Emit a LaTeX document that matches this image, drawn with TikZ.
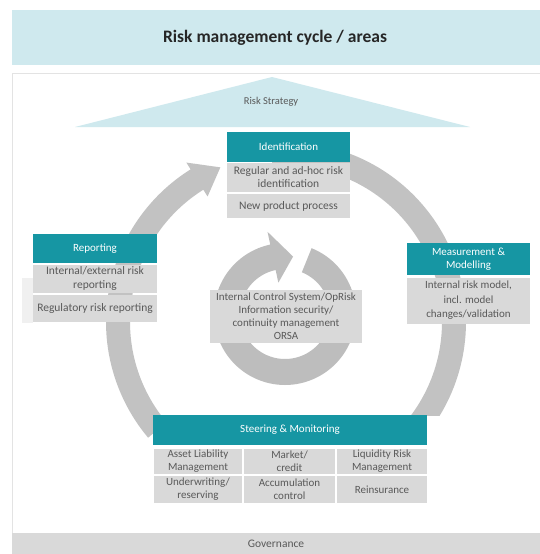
\documentclass[tikz,border=0pt]{standalone}
\usepackage{fontspec}
\setmainfont{Carlito}
\definecolor{tealhdr}{HTML}{1696A3}
\definecolor{lightcyan}{HTML}{CFE9EE}
\definecolor{cellgray}{HTML}{D9D9D9}
\definecolor{ringgray}{HTML}{C2C2C2}
\definecolor{innergray}{HTML}{BDBDBD}
\definecolor{textgray}{HTML}{595959}
\definecolor{panelline}{HTML}{E3E3E3}
\definecolor{faintgray}{HTML}{F0F0F0}
\begin{document}
\begin{tikzpicture}[x=1pt,y=-1pt,
  hdr/.style={fill=tealhdr, text=white, font=\fontsize{11}{13}\selectfont, align=center, inner sep=0pt},
  cell/.style={fill=cellgray, text=textgray, font=\fontsize{11}{13}\selectfont, align=center, inner sep=0pt},
  bigcell/.style={cell, font=\fontsize{11.5}{13.5}\selectfont},
  band/.style={fill=lightcyan},
  ring/.style={fill=ringgray},
  iring/.style={fill=innergray}]
\useasboundingbox (0,0) rectangle (540,554);
\fill[white] (0,0) rectangle (540,554);

% title band
\fill[band] (12,10) rectangle (540,65);
\node[font=\fontsize{17.5}{20}\selectfont\bfseries, text=black!85] (title) at (275,38) {Risk management cycle / areas};

% panel border
\draw[panelline, line width=1] (12,533) -- (12,73) -- (540,73);

% risk strategy triangle
\fill[band] (272,77) -- (75,127) -- (470,127) -- cycle;
\node[font=\fontsize{10.5}{12}\selectfont, text=textgray] (strategy) at (271,102) {Risk Strategy};

% outer cycle: Steering -> Reporting -> Identification (with arrow head)
\fill[ring] plot[domain=140:238,samples=60] ({286+180*cos(\x)},{322+180*sin(\x)})
  -- ({286+188*cos(238)},{322+188*sin(238)})
  -- ({286+168*cos(247)},{322+168*sin(247)})
  -- ({286+148*cos(238)},{322+148*sin(238)})
  -- plot[domain=238:140,samples=60] ({286+156*cos(\x)},{322+156*sin(\x)}) -- cycle;
% outer cycle: Identification -> Measurement -> Steering
\begin{scope}
\clip (0,0) rectangle (540,415);
\fill[ring] plot[domain=265:400,samples=80] ({286+180*cos(\x)},{322+180*sin(\x)})
  -- plot[domain=400:265,samples=80] ({286+156*cos(\x)},{322+156*sin(\x)}) -- cycle;
\end{scope}

% inner circular arrow
\fill[iring] plot[domain=292:618,samples=100] ({285+71*cos(\x)},{314+71*sin(\x)})
  -- ({285+84*cos(618)},{314+84*sin(618)})
  -- ({285+58*cos(638)},{314+58*sin(638)})
  -- ({285+32*cos(618)},{314+32*sin(618)})
  -- plot[domain=618:292,samples=100] ({285+45*cos(\x)},{314+45*sin(\x)}) -- cycle;
\node[cell, minimum width=152, minimum height=53, font=\fontsize{11}{13}\selectfont] (ics) at (286,316.5)
  {Internal Control System/OpRisk\\Information security/\\continuity management\\ORSA};

% faint block left of Reporting
\fill[faintgray] (22,278) rectangle (33,323);

% Identification
\node[hdr, minimum width=123, minimum height=30] (idh) at (288.5,147) {Identification};
\node[bigcell, minimum width=123, minimum height=29] (id1) at (288.5,177) {Regular and ad-hoc risk\\identification};
\node[bigcell, minimum width=123, minimum height=24] (id2) at (288.5,206) {New product process};

% Reporting
\node[hdr, minimum width=124, minimum height=29] (reh) at (95,248.5) {Reporting};
\node[bigcell, minimum width=124, minimum height=28] (re1) at (95,278.5) {Internal/external risk\\reporting};
\node[bigcell, minimum width=124, minimum height=27] (re2) at (95,308.5) {Regulatory risk reporting};

% Measurement & Modelling
\node[hdr, minimum width=123, minimum height=32] (meh) at (468.5,259) {Measurement \&\\Modelling};
\node[cell, minimum width=123, minimum height=46, font=\fontsize{11}{14.5}\selectfont] (me1) at (468.5,300.5) {Internal risk model,\\incl. model\\changes/validation};

% Steering & Monitoring
\node[hdr, minimum width=274, minimum height=30] (sth) at (290,430) {Steering \& Monitoring};
\node[cell, minimum width=88, minimum height=25] (st11) at (198,461.5) {Asset Liability\\Management};
\node[cell, minimum width=91, minimum height=25] (st12) at (289.5,461.5) {Market/\\credit};
\node[cell, minimum width=90, minimum height=25] (st13) at (382,461.5) {Liquidity Risk\\Management};
\node[cell, minimum width=88, minimum height=27] (st21) at (198,489.5) {Underwriting/\\reserving};
\node[cell, minimum width=91, minimum height=27] (st22) at (289.5,489.5) {Accumulation\\control};
\node[cell, minimum width=90, minimum height=27] (st23) at (382,489.5) {Reinsurance};

% Governance
\fill[cellgray] (12,533) rectangle (540,554);
\node[font=\fontsize{11.5}{13}\selectfont, text=textgray] (gov) at (276,544) {Governance};
\end{tikzpicture}
\end{document}
